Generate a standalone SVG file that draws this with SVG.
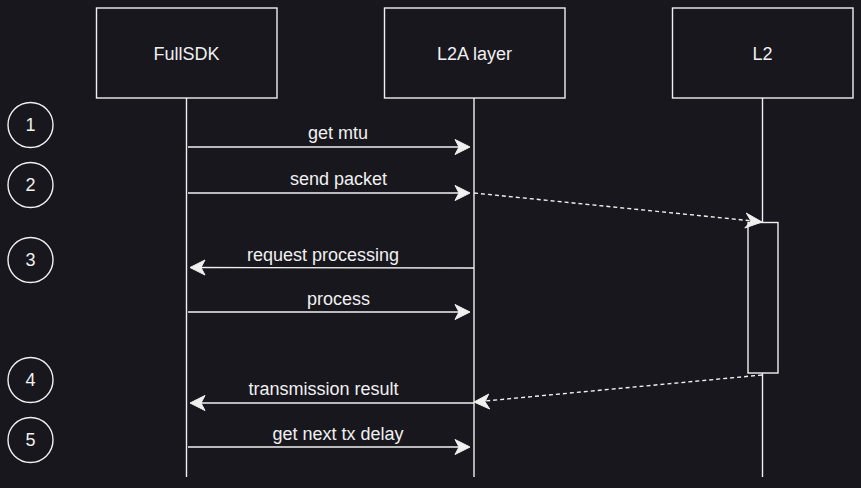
<svg xmlns="http://www.w3.org/2000/svg" width="861" height="488" viewBox="0 0 861 488">
<style>
.box{fill:#18171e;stroke:#f0f0f0;stroke-width:1.4}
.life{stroke:#f0f0f0;stroke-width:1.4;fill:none}
.msg{stroke:#f0f0f0;stroke-width:1.4;fill:none}
.dash{stroke:#f0f0f0;stroke-width:1.4;fill:none;stroke-dasharray:4 3}
.head{fill:#f0f0f0;stroke:#f0f0f0;stroke-width:1}
text{font-family:"Liberation Sans",Arial,sans-serif;font-size:18px;fill:#f0f0f0;text-anchor:middle}
</style>
<rect width="861" height="488" fill="#18171e"/>
<g id="lifelines">
<line class="life" x1="186.5" y1="98" x2="186.5" y2="477"/>
<line class="life" x1="474" y1="98" x2="474" y2="477"/>
<line class="life" x1="762.5" y1="98" x2="762.5" y2="222.5"/>
<line class="life" x1="762.5" y1="373" x2="762.5" y2="477"/>
</g>
<g id="node-fullsdk"><rect class="box" x="96.5" y="8" width="180.5" height="90"/><text x="186.5" y="59.5">FullSDK</text></g>
<g id="node-l2a"><rect class="box" x="384.5" y="8" width="180.5" height="90"/><text x="474.5" y="59.5">L2A layer</text></g>
<g id="node-l2"><rect class="box" x="672.5" y="8" width="180.5" height="90"/><text x="762.5" y="59.5">L2</text></g>
<g id="activation"><rect class="box" x="748" y="222.5" width="30" height="150.5"/></g>
<g id="steps">
<g id="step-1"><circle class="box" cx="30.5" cy="125" r="22.5"/><text x="30.5" y="131.3">1</text></g>
<g id="step-2"><circle class="box" cx="30.5" cy="185" r="22.5"/><text x="30.5" y="191.3">2</text></g>
<g id="step-3"><circle class="box" cx="30.5" cy="260" r="22.5"/><text x="30.5" y="266.3">3</text></g>
<g id="step-4"><circle class="box" cx="30.5" cy="380" r="22.5"/><text x="30.5" y="386.3">4</text></g>
<g id="step-5"><circle class="box" cx="30.5" cy="440" r="22.5"/><text x="30.5" y="446.3">5</text></g>
</g>
<g id="connectors">
<line class="msg" x1="188" y1="147" x2="462" y2="147"/>
<path class="head" d="M470,147 L455,139.5 L459,147 L455,154.5 Z"/>
<text x="338" y="138.5">get mtu</text>

<line class="msg" x1="188" y1="193" x2="462" y2="193"/>
<path class="head" d="M470,193 L455,185.5 L459,193 L455,200.5 Z"/>
<text x="338.5" y="185">send packet</text>

<line class="dash" x1="474" y1="193" x2="753" y2="221"/>
<path class="head" d="M762,222 L746.3,213.1 L751,221 L744.8,228 Z"/>

<line class="msg" x1="474" y1="268" x2="198" y2="267.5"/>
<path class="head" d="M190,267.5 L205,260 L201,267.5 L205,275 Z"/>
<text x="323" y="261">request processing</text>

<line class="msg" x1="188" y1="312" x2="462" y2="312"/>
<path class="head" d="M470,312 L455,304.5 L459,312 L455,319.5 Z"/>
<text x="338.5" y="304.5">process</text>

<line class="dash" x1="762" y1="375" x2="482" y2="401.3"/>
<path class="head" d="M474,402 L488.7,394.1 L485,401.7 L489.7,409 Z"/>

<line class="msg" x1="474" y1="403" x2="198" y2="403"/>
<path class="head" d="M190,403 L205,395.5 L201,403 L205,410.5 Z"/>
<text x="323.5" y="395">transmission result</text>

<line class="msg" x1="188" y1="447" x2="462" y2="447"/>
<path class="head" d="M470,447 L455,439.5 L459,447 L455,454.5 Z"/>
<text x="338" y="440">get next tx delay</text>
</g>
</svg>
